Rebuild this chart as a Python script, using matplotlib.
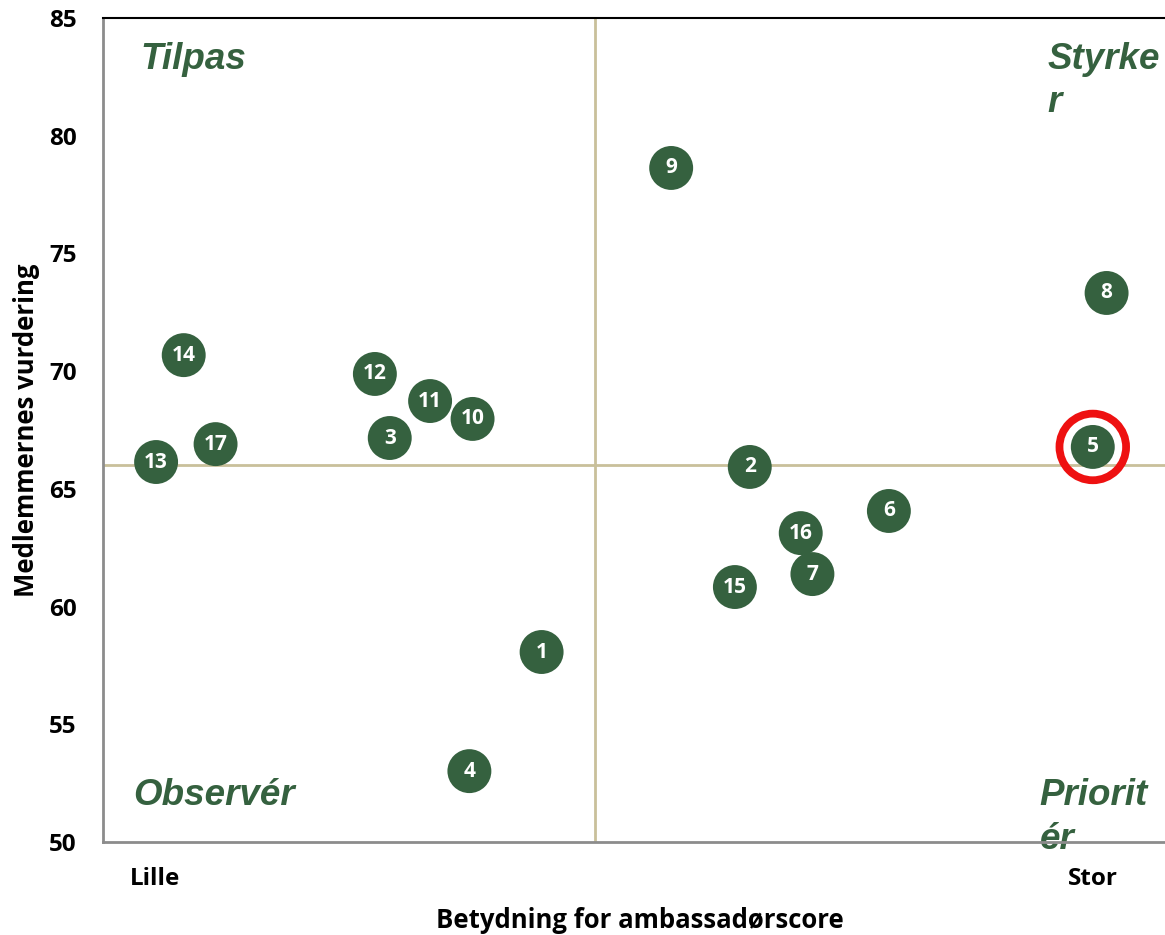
import matplotlib
matplotlib.use("Agg")
import matplotlib.pyplot as plt

# data: x is a relative importance scale (0-100), y is member rating
labels = ["1", "2", "3", "4", "5", "6", "7", "8", "9", "10",
          "11", "12", "13", "14", "15", "16", "17"]
x_vals = [41.3, 60.9, 27.0, 34.5, 93.2, 74.0, 66.8, 94.5, 53.5, 34.8,
          30.8, 25.6, 5.0, 7.6, 59.5, 65.7, 10.6]
y_vals = [58.07, 65.93, 67.16, 53.01, 66.78, 64.06, 61.38, 73.32, 78.63, 67.97,
          68.73, 69.88, 66.14, 70.68, 60.83, 63.12, 66.90]
highlight = "5"

x_split = 46.3
y_split = 66.0

x_tick_pos = [4.9, 93.2]
x_tick_labels = ["Lille", "Stor"]
y_ticks = [50, 55, 60, 65, 70, 75, 80, 85]

quadrants = [("Tilpas", 3.5, 84.0), ("Styrke\nr", 88.9, 84.0),
             ("Observér", 2.8, 52.7), ("Priorit\nér", 88.2, 52.7)]

green = "#35613f"
beige = "#c9c09a"
label_font = "Open Sans"
quad_font = "Liberation Sans"

fig = plt.figure(figsize=(11.65, 9.35), dpi=100)
ax = fig.add_axes([103 / 1165, 1 - 842 / 935, 1 - 103 / 1165, (842 - 18) / 935])

ax.set_xlim(0, 100)
ax.set_ylim(50, 85)

ax.axvline(x_split, color=beige, lw=2.0, zorder=1)
ax.axhline(y_split, color=beige, lw=2.0, zorder=1)

ax.scatter(x_vals, y_vals, s=1000, color=green, edgecolors="none", zorder=3)
for lab, x, y in zip(labels, x_vals, y_vals):
    ax.text(x, y, lab, ha="center", va="center", color="white",
            fontsize=15, fontweight="bold", family=label_font, zorder=4)
    if lab == highlight:
        ax.scatter([x], [y], s=2300, facecolors="none", edgecolors="#ee1111",
                   linewidths=5.6, zorder=5)

for txt, x, y in quadrants:
    ax.text(x, y, txt, ha="left", va="top", color=green, fontsize=26.5,
            fontweight="bold", style="italic", family=quad_font,
            linespacing=1.3, zorder=2)

ax.set_xticks(x_tick_pos)
ax.set_xticklabels(x_tick_labels)
ax.set_yticks(y_ticks)
ax.tick_params(length=0, labelsize=17.5)
ax.tick_params(axis="x", pad=18)
ax.tick_params(axis="y", pad=19)
for t in ax.get_xticklabels() + ax.get_yticklabels():
    t.set_fontweight("bold")
    t.set_family(label_font)

ax.set_xlabel("Betydning for ambassadørscore", fontsize=18.5, fontweight="bold",
              family=label_font, va="center")
ax.set_ylabel("Medlemmernes vurdering", fontsize=18.5, fontweight="bold",
              family=label_font, va="center")
ax.xaxis.set_label_coords(0.506, -0.0955)
ax.yaxis.set_label_coords(-0.0716, 0.5)

ax.spines["right"].set_visible(False)
ax.spines["top"].set_color("black")
ax.spines["top"].set_linewidth(1.5)
for side in ["left", "bottom"]:
    ax.spines[side].set_color("#8c8c8c")
    ax.spines[side].set_linewidth(2.0)

fig.savefig("out.png", dpi=100)
